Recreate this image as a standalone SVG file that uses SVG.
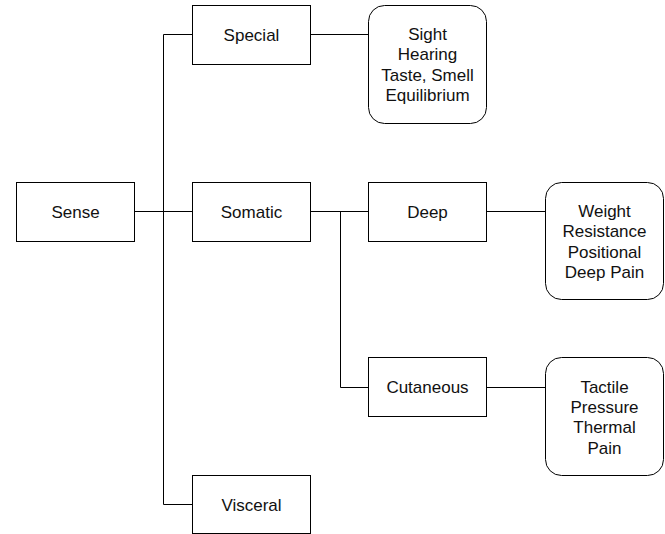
<svg xmlns="http://www.w3.org/2000/svg" width="665" height="534" viewBox="0 0 665 534">
<style>
.box{fill:#fff;stroke:#000;stroke-width:1}
.ln{fill:none;stroke:#000;stroke-width:1}
text{font-family:"Liberation Sans",Arial,Helvetica,sans-serif;font-size:17px;fill:#111;text-anchor:middle}
</style>
<rect width="665" height="534" fill="#fff"/>
<g id="connectors">
<path class="ln" d="M163.5,34.5 V504.5"/>
<path class="ln" d="M163.5,34.5 H192.5"/>
<path class="ln" d="M134.5,211.5 H192.5"/>
<path class="ln" d="M163.5,504.5 H192.5"/>
<path class="ln" d="M310.5,34.5 H368.5"/>
<path class="ln" d="M310.5,211.5 H368.5"/>
<path class="ln" d="M340.5,211.5 V387.5 H368.5"/>
<path class="ln" d="M486.5,211.5 H545.5"/>
<path class="ln" d="M486.5,387.5 H545.5"/>
</g>
<g id="sense"><rect class="box" x="16.5" y="182.5" width="118" height="59"/><text x="75.5" y="218">Sense</text></g>
<g id="special"><rect class="box" x="192.5" y="5.5" width="118" height="59"/><text x="251.5" y="41">Special</text></g>
<g id="somatic"><rect class="box" x="192.5" y="182.5" width="118" height="59"/><text x="251.5" y="218">Somatic</text></g>
<g id="visceral"><rect class="box" x="192.5" y="475.5" width="118" height="58"/><text x="251.5" y="510.5">Visceral</text></g>
<g id="special-list"><rect class="box" x="368.5" y="5.5" width="118" height="118" rx="16"/><text x="427.5" y="40">Sight</text><text x="427.5" y="60.4">Hearing</text><text x="427.5" y="80.8">Taste, Smell</text><text x="427.5" y="101.2">Equilibrium</text></g>
<g id="deep"><rect class="box" x="368.5" y="182.5" width="118" height="59"/><text x="427.5" y="218">Deep</text></g>
<g id="deep-list"><rect class="box" x="545.5" y="182.5" width="118" height="117" rx="16"/><text x="604.5" y="217">Weight</text><text x="604.5" y="237.4">Resistance</text><text x="604.5" y="257.8">Positional</text><text x="604.5" y="278.2">Deep Pain</text></g>
<g id="cutaneous"><rect class="box" x="368.5" y="357.5" width="118" height="59"/><text x="427.5" y="393">Cutaneous</text></g>
<g id="cutaneous-list"><rect class="box" x="545.5" y="357.5" width="118" height="118" rx="16"/><text x="604.5" y="392.5">Tactile</text><text x="604.5" y="412.9">Pressure</text><text x="604.5" y="433.3">Thermal</text><text x="604.5" y="453.7">Pain</text></g>
</svg>
